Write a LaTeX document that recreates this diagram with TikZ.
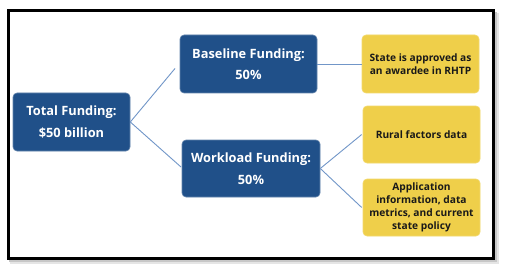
\documentclass[tikz,border=0pt]{standalone}
\usepackage{fontspec}
\setmainfont{Open Sans}
\definecolor{navy}{HTML}{205089}
\definecolor{gold}{HTML}{EFCF4A}
\definecolor{linkc}{HTML}{7196C8}
\begin{document}
\begin{tikzpicture}[x=1pt,y=-1pt,
  bluebox/.style={fill=navy, draw=navy!70!white, line width=0.6pt, rounded corners=4pt, text=white,
    font=\bfseries\fontsize{12.8}{21.5}\selectfont, align=center, inner sep=0pt},
  goldbox/.style={fill=gold, draw=gold!80!white, line width=0.6pt, rounded corners=4pt, text=black!90,
    font=\bfseries\fontsize{10.2}{13}\selectfont, align=center, inner sep=0pt},
  link/.style={draw=linkc, line width=0.9pt}]
\useasboundingbox (0,0) rectangle (509,270);
% frame with shadow
\fill[black!10] (10,13) rectangle (499,264);
\fill[black!22] (9,12) rectangle (497,262);
\draw[line width=3.2pt, fill=white] (8.5,10.5) rectangle (493.5,258.5);
% boxes
\node[bluebox, minimum width=117pt, minimum height=58pt] (total) at (71.5,122) {Total Funding:\\\$50 billion};
\node[bluebox, minimum width=137pt, minimum height=58pt] (base) at (248.5,64) {Baseline Funding:\\50\%};
\node[bluebox, minimum width=138pt, minimum height=57pt] (work) at (251,168.5) {Workload Funding:\\50\%};
\node[goldbox, minimum width=117pt, minimum height=58pt] (state) at (420.5,64) {State is approved as\\an awardee in RHTP};
\node[goldbox, minimum width=117pt, minimum height=57pt] (rural) at (421.5,134.5) {Rural factors data};
\node[goldbox, minimum width=117pt, minimum height=57pt] (app) at (421.5,207.5) {Application\\information, data\\metrics, and current\\state policy};
% connectors
\coordinate (t1) at (175,68.5);
\coordinate (t2) at (181,167);
\draw[link] (total.east) -- (t1);
\draw[link] (total.east) -- (t2);
\draw[link] (base.east) -- (state.west);
\draw[link] (work.east) -- ([xshift=-1pt]rural.west);
\draw[link] (work.east) -- ([xshift=-1pt]app.west);
\end{tikzpicture}
\end{document}
